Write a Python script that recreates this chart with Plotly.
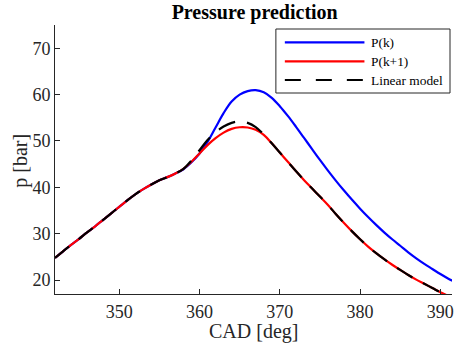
import plotly.graph_objects as go

# ---------------- data ----------------
cad = list(range(342, 393))

p_k = [24.8, 26.2, 27.6, 28.9, 30.3, 31.6, 33.0, 34.4, 35.8, 37.2,
       38.5, 39.6, 40.6, 41.5, 42.2, 43.0, 43.9, 45.4, 47.3, 49.8,
       52.9, 56.0, 58.5, 60.0, 60.75, 60.95, 60.5, 59.3, 57.5, 55.4,
       53.1, 50.7, 48.3, 45.9, 43.6, 41.4, 39.3, 37.3, 35.4, 33.6,
       31.9, 30.3, 28.8, 27.4, 26.0, 24.7, 23.5, 22.4, 21.3, 20.3, 19.4]

p_k1 = [24.8, 26.2, 27.6, 28.9, 30.3, 31.6, 33.0, 34.4, 35.8, 37.2,
        38.5, 39.6, 40.6, 41.5, 42.2, 43.0, 44.0, 45.5, 47.3, 49.1,
        50.6, 51.8, 52.6, 52.95, 52.9, 52.4, 51.3, 49.5, 47.5, 45.5,
        43.5, 41.6, 39.8, 38.0, 36.2, 34.2, 32.3, 30.5, 28.8, 27.2,
        25.8, 24.5, 23.3, 22.2, 21.1, 20.1, 19.2, 18.3, 17.4, 16.6, 15.8]

p_lin = [24.8, 26.2, 27.6, 28.9, 30.3, 31.6, 33.0, 34.4, 35.8, 37.2,
         38.5, 39.6, 40.6, 41.5, 42.2, 43.0, 44.0, 45.8, 48.0, 50.2,
         51.9, 53.1, 53.9, 54.2, 53.9, 53.0, 51.4, 49.5, 47.5, 45.5,
         43.5, 41.6, 39.8, 38.0, 36.2, 34.2, 32.3, 30.5, 28.8, 27.2,
         25.8, 24.5, 23.3, 22.2, 21.1, 20.1, 19.2, 18.3, 17.4, 16.6, 15.8]

series_names = ["P(k)", "P(k+1)", "Linear model"]
series_colors = ["#0000ff", "#ff0000", "#000000"]
series_dash = ["solid", "solid", "18px,12px"]

x_ticks = [350, 360, 370, 380, 390]
y_ticks = [20, 30, 40, 50, 60, 70]

# ---------------- layout geometry ----------------
W, H = 454, 347
ML, MR, MT, MB = 55, 0, 25, 53
PW, PH = W - ML - MR, H - MT - MB


def px_x(x):
    return (x - ML) / PW


def px_y(y):
    return 1 - (y - MT) / PH


FONT = "Liberation Serif"
AX = "#262626"

fig = go.Figure()
for name, ys, col, dsh in zip(series_names, [p_k, p_k1, p_lin], series_colors, series_dash):
    fig.add_trace(go.Scatter(x=cad, y=ys, mode="lines", name=name,
                             line=dict(color=col, width=2.2, dash=dsh, shape="spline"),
                             showlegend=False))

# manual legend (MATLAB style long samples)
shapes = [dict(type="rect", xref="paper", yref="paper",
               x0=px_x(277), x1=px_x(452), y0=px_y(93), y1=px_y(29),
               line=dict(color=AX, width=1), fillcolor="white", layer="above")]
annotations = []
leg_y = [42.3, 61.3, 80.0]
leg_dash = ["solid", "solid", "16px,15px"]
for name, col, dsh, ly in zip(series_names, series_colors, leg_dash, leg_y):
    shapes.append(dict(type="line", xref="paper", yref="paper",
                       x0=px_x(286), x1=px_x(366), y0=px_y(ly), y1=px_y(ly),
                       line=dict(color=col, width=2.2, dash=dsh), layer="above"))
    annotations.append(dict(xref="paper", yref="paper", x=px_x(371), y=px_y(ly),
                            text=name, showarrow=False, xanchor="left", yanchor="middle",
                            font=dict(family=FONT, size=13.4, color="#000000")))

# axis titles
annotations.append(dict(xref="paper", yref="paper", x=px_x(255), y=px_y(331),
                        text="CAD [deg]", showarrow=False, xanchor="center", yanchor="middle",
                        font=dict(family=FONT, size=20, color=AX)))
annotations.append(dict(xref="paper", yref="paper", x=px_x(19.5), y=px_y(161),
                        text="p [bar]", showarrow=False, xanchor="center", yanchor="middle",
                        textangle=-90, font=dict(family=FONT, size=20, color=AX)))

fig.update_layout(
    width=W, height=H,
    margin=dict(l=ML, r=MR, t=MT, b=MB, pad=0),
    paper_bgcolor="white", plot_bgcolor="white",
    font=dict(family=FONT, color=AX),
    title=dict(text="Pressure prediction", x=px_x(255.7), xref="paper", xanchor="center",
               y=1 - 12 / H, yref="container", yanchor="middle",
               font=dict(family=FONT, size=20, color="#000000", weight="bold")),
    xaxis=dict(range=[342, 391.45], tickvals=x_ticks, ticks="inside", ticklen=5,
               tickwidth=1, tickcolor=AX, showline=True, linecolor=AX, linewidth=1,
               showgrid=False, zeroline=False, mirror=False,
               ticklabeloverflow="allow", ticklabelstandoff=1,
               tickfont=dict(family=FONT, size=18, color=AX)),
    yaxis=dict(range=[17, 75], tickvals=y_ticks, ticks="inside", ticklen=5,
               tickwidth=1, tickcolor=AX, showline=True, linecolor=AX, linewidth=1,
               showgrid=False, zeroline=False, mirror=False,
               tickfont=dict(family=FONT, size=18, color=AX)),
    shapes=shapes, annotations=annotations,
)

fig.write_html("out.html")
